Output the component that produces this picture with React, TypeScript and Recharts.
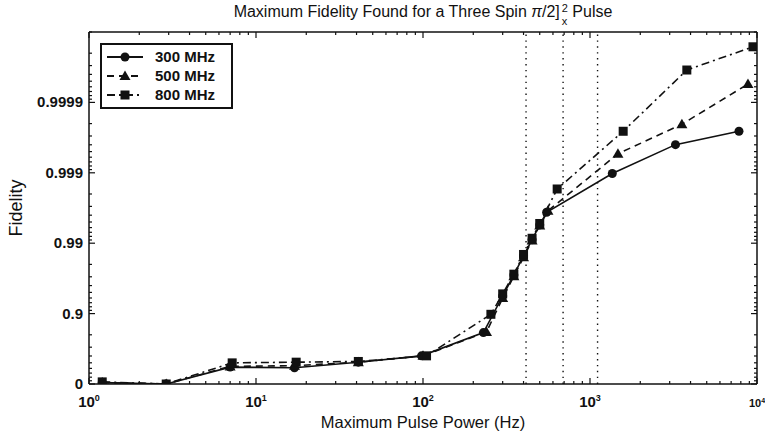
import React from 'react';
import { LineChart, Line, XAxis, YAxis, ReferenceLine } from 'recharts';

// x: pulse power (Hz); y: "nines" of fidelity, i.e. -log10(1 - F)
const freq300 = [1.2, 2.9, 7.0, 17, 41, 98, 230, 300, 350, 400, 450, 500, 550, 1360, 3250, 7800];
const nines300 = [0.02, 0, 0.24, 0.23, 0.31, 0.4, 0.73, 1.25, 1.55, 1.82, 2.05, 2.26, 2.44, 2.99, 3.4, 3.59];
const freq500 = [1.2, 2.9, 7.0, 17, 41, 100, 240, 300, 350, 400, 450, 500, 560, 1470, 3550, 8830];
const nines500 = [0.02, 0, 0.25, 0.26, 0.31, 0.4, 0.74, 1.22, 1.53, 1.8, 2.04, 2.25, 2.46, 3.27, 3.69, 4.26];
const freq800 = [1.2, 2.9, 7.2, 17.4, 41, 105, 255, 300, 350, 400, 450, 500, 636, 1580, 3800, 9460];
const nines800 = [0.03, 0, 0.3, 0.31, 0.32, 0.4, 0.99, 1.28, 1.56, 1.84, 2.07, 2.28, 2.77, 3.59, 4.46, 4.79];

const markerLines = [414, 690, 1110];

const xMajor = [1, 10, 100, 1000, 10000];
const xExp = ['0', '1', '2', '3', '4'];
const yMajor = [0, 1, 2, 3, 4];
const yLabels = ['0', '0.9', '0.99', '0.999', '0.9999'];

const xTicks = xMajor.flatMap((m, i) =>
  i < xMajor.length - 1 ? [1, 2, 3, 4, 5, 6, 7, 8, 9].map((k) => k * m) : [m],
);
const yTicks = [0, 1, 2, 3, 4].flatMap((n) => [n, ...[9, 8, 7, 6, 5, 4, 3, 2].map((k) => n + 1 - Math.log10(k))]).concat([5]);

const zip = (xs: number[], ys: number[]) => xs.map((x, i) => ({ x, y: ys[i] }));
const d300 = zip(freq300, nines300);
const d500 = zip(freq500, nines500);
const d800 = zip(freq800, nines800);

const FONT = '"Liberation Sans", Arial, Helvetica, sans-serif';
const INK = '#111';

const isMajorX = (v: number) => xMajor.some((m) => Math.abs(m - v) < 1e-9);
const isMajorY = (v: number) => yMajor.some((m) => Math.abs(m - v) < 1e-9);

const BottomTick = (p: any) => {
  const { x, y, payload } = p;
  const v = payload.value;
  const idx = xMajor.findIndex((m) => Math.abs(m - v) < 1e-9);
  const last = idx === xMajor.length - 1;
  return (
    <g>
      <line x1={x} x2={x} y1={y} y2={y - (idx >= 0 ? 6 : 3)} stroke={INK} strokeWidth={1.2} />
      {idx >= 0 && (
        <text x={x} y={y + 23} textAnchor="middle" fontFamily={FONT} fontWeight="bold" fontSize={last ? 11 : 15} fill={INK}>
          10
          <tspan dy={last ? -4 : -6} fontSize={last ? 7 : 9}>{xExp[idx]}</tspan>
        </text>
      )}
    </g>
  );
};

const TopTick = (p: any) => {
  const { x, y, payload } = p;
  return <line x1={x} x2={x} y1={y} y2={y + (isMajorX(payload.value) ? 6 : 3)} stroke={INK} strokeWidth={1.2} />;
};

const LeftTick = (p: any) => {
  const { x, y, payload } = p;
  const v = payload.value;
  const idx = yMajor.findIndex((m) => Math.abs(m - v) < 1e-9);
  return (
    <g>
      <line x1={x} x2={x + (idx >= 0 ? 6 : 3)} y1={y} y2={y} stroke={INK} strokeWidth={1.2} />
      {idx >= 0 && (
        <text x={x - 6} y={y + 5} textAnchor="end" fontFamily={FONT} fontWeight="bold" fontSize={15} fill={INK}>
          {yLabels[idx]}
        </text>
      )}
    </g>
  );
};

const RightTick = (p: any) => {
  const { x, y, payload } = p;
  return <line x1={x} x2={x - (isMajorY(payload.value) ? 6 : 3)} y1={y} y2={y} stroke={INK} strokeWidth={1.2} />;
};

const Circle = ({ cx, cy }: any) => <circle cx={cx} cy={cy} r={4.5} fill={INK} />;
const Tri = ({ cx, cy }: any) => (
  <polygon points={`${cx},${cy - 5.5} ${cx - 5.5},${cy + 4} ${cx + 5.5},${cy + 4}`} fill={INK} />
);
const Sq = ({ cx, cy }: any) => <rect x={cx - 4.5} y={cy - 4.5} width={9} height={9} fill={INK} />;

const SERIES = [
  { name: '300 MHz', data: d300, dash: undefined as string | undefined, Mark: Circle },
  { name: '500 MHz', data: d500, dash: '7 5', Mark: Tri },
  { name: '800 MHz', data: d800, dash: '8 4 2 4', Mark: Sq },
];

const LegendBox = () => (
  <div
    style={{
      position: 'absolute',
      left: 100,
      top: 43,
      border: `2px solid ${INK}`,
      width: 129,
      padding: '2px 0 3px 0',
      background: '#fff',
      fontFamily: FONT,
      fontWeight: 'bold',
      fontSize: 15,
      color: INK,
    }}
  >
    {SERIES.map((s) => (
      <div key={s.name} style={{ display: 'flex', alignItems: 'center', height: 19 }}>
        <svg width={44} height={14} style={{ marginLeft: 3 }}>
          <line x1={2} x2={38} y1={7} y2={7} stroke={INK} strokeWidth={2} strokeDasharray={s.dash} />
          <s.Mark cx={20} cy={7} />
        </svg>
        <span style={{ marginLeft: 6 }}>{s.name}</span>
      </div>
    ))}
  </div>
);

const axisCommon = {
  interval: 0 as const,
  tickSize: 0,
  tickMargin: 0,
  tickLine: false,
  stroke: INK,
  strokeWidth: 1.5,
  allowDataOverflow: true,
};

export default function App() {
  return (
    <div style={{ position: 'absolute', left: 0, top: 0, width: 765, height: 437, background: '#fff' }}>
      <div
        style={{
          position: 'absolute',
          left: 89,
          width: 668,
          top: 2,
          textAlign: 'center',
          fontFamily: FONT,
          fontSize: 16,
          color: INK,
          lineHeight: '20px',
          whiteSpace: 'nowrap',
        }}
      >
        Maximum Fidelity Found for a Three Spin <i>π</i>/2]
        <span
          style={{
            display: 'inline-block',
            verticalAlign: '-8px',
            lineHeight: '13px',
            fontSize: 11,
            textAlign: 'left',
            marginLeft: 2,
          }}
        >
          <span style={{ display: 'block' }}>2</span>
          <span style={{ display: 'block' }}>x</span>
        </span>{' '}
        Pulse
      </div>
      <div
        style={{
          position: 'absolute',
          left: 89,
          width: 668,
          top: 413,
          textAlign: 'center',
          fontFamily: FONT,
          fontSize: 16.5,
          color: INK,
        }}
      >
        Maximum Pulse Power (Hz)
      </div>
      <div
        style={{
          position: 'absolute',
          left: 16,
          top: 208,
          transform: 'translate(-50%, -50%) rotate(-90deg)',
          fontFamily: FONT,
          fontSize: 18,
          color: INK,
          whiteSpace: 'nowrap',
        }}
      >
        Fidelity
      </div>
      <LineChart width={765} height={437} margin={{ top: 31, right: 7, bottom: 52, left: 88 }}>
        <XAxis
          {...axisCommon}
          xAxisId="b"
          type="number"
          dataKey="x"
          scale="log"
          domain={[1, 10000]}
          ticks={xTicks}
          tick={<BottomTick />}
          height={1}
        />
        <XAxis
          {...axisCommon}
          xAxisId="t"
          orientation="top"
          type="number"
          dataKey="x"
          scale="log"
          domain={[1, 10000]}
          ticks={xTicks}
          tick={<TopTick />}
          height={1}
        />
        <YAxis {...axisCommon} yAxisId="l" type="number" domain={[0, 5]} ticks={yTicks} tick={<LeftTick />} width={1} />
        <YAxis
          {...axisCommon}
          yAxisId="r"
          orientation="right"
          type="number"
          domain={[0, 5]}
          ticks={yTicks}
          tick={<RightTick />}
          width={1}
        />
        {markerLines.map((v) => (
          <ReferenceLine key={v} xAxisId="b" yAxisId="l" x={v} stroke={INK} strokeWidth={1.4} strokeDasharray="1.4 4.5" />
        ))}
        {SERIES.map((s) => (
          <Line
            key={s.name}
            xAxisId="b"
            yAxisId="l"
            data={s.data}
            dataKey="y"
            name={s.name}
            type="linear"
            stroke={INK}
            strokeWidth={1.6}
            strokeDasharray={s.dash}
            dot={(p: any) => <s.Mark key={`${s.name}-${p.index}`} cx={p.cx} cy={p.cy} />}
            isAnimationActive={false}
          />
        ))}
      </LineChart>
      <LegendBox />
    </div>
  );
}
